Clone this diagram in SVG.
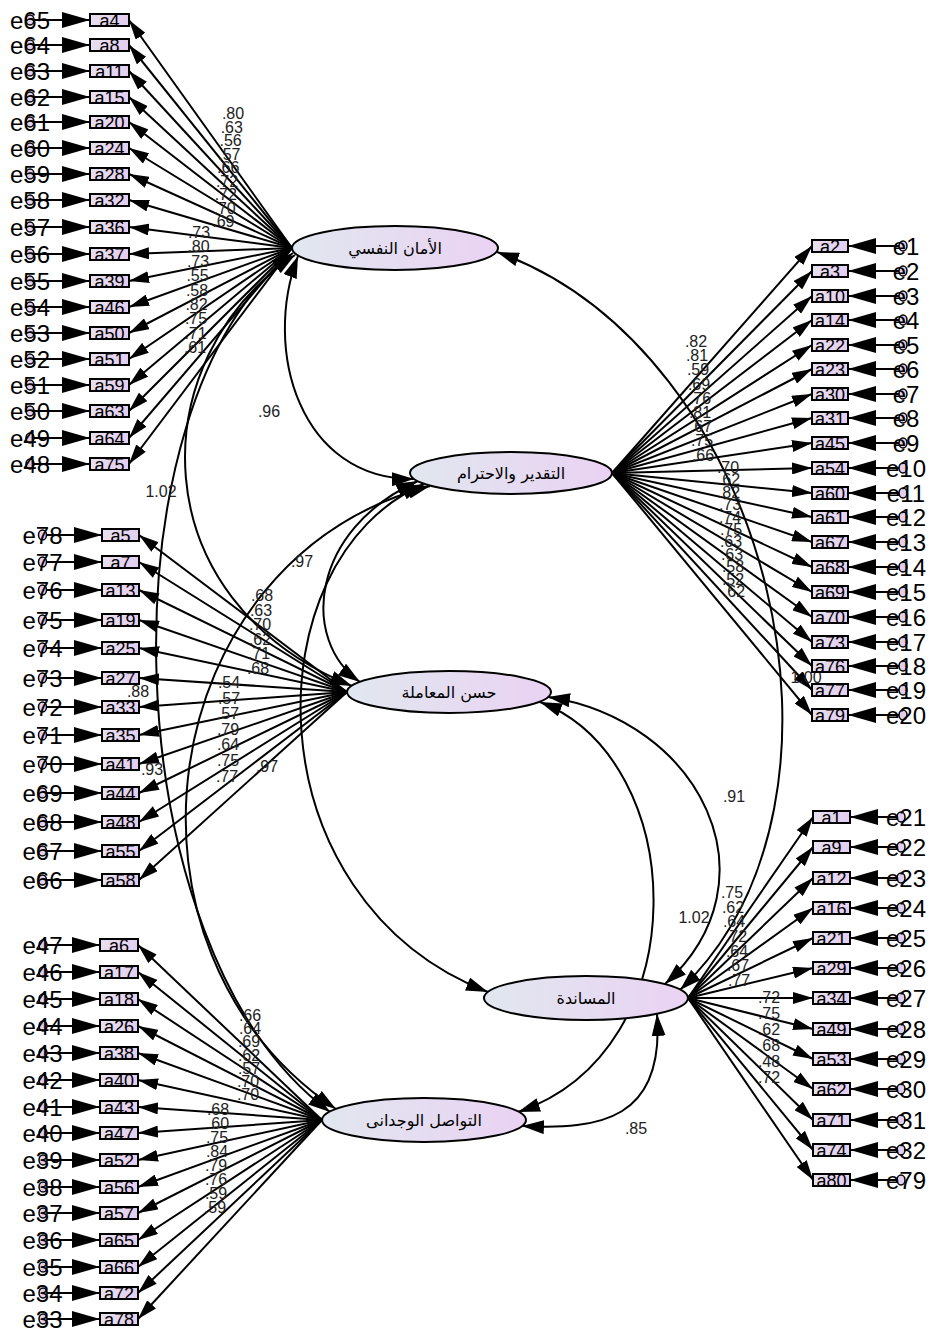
<svg xmlns="http://www.w3.org/2000/svg" width="933" height="1332" viewBox="0 0 933 1332">
<defs>
<linearGradient id="gl" x1="0" y1="0" x2="1" y2="0"><stop offset="0" stop-color="#e1e7ef"/><stop offset="1" stop-color="#ead2f3"/></linearGradient>
<linearGradient id="gi" x1="0" y1="0" x2="1" y2="0"><stop offset="0" stop-color="#e6e0ef"/><stop offset="1" stop-color="#e4cdef"/></linearGradient>
<marker id="ah" viewBox="0 0 20 12" refX="20" refY="6" markerWidth="20" markerHeight="12" markerUnits="userSpaceOnUse" orient="auto"><path d="M0,0L20,6L0,12z"/></marker>
<marker id="ae" viewBox="0 0 28 16" refX="28" refY="8" markerWidth="28" markerHeight="16" markerUnits="userSpaceOnUse" orient="auto"><path d="M0,0L28,8L0,16z"/></marker>
<marker id="ac" viewBox="0 0 22 14" refX="22" refY="7" markerWidth="22" markerHeight="14" markerUnits="userSpaceOnUse" orient="auto-start-reverse"><path d="M0,0L22,7L0,14z"/></marker>
</defs>
<style>
.ld line{stroke:#000;stroke-width:2;marker-end:url(#ah)}
.el line{stroke:#000;stroke-width:2;marker-end:url(#ae)}
.cv path{fill:none;stroke:#000;stroke-width:2;marker-start:url(#ac);marker-end:url(#ac)}
.it rect{fill:url(#gi);stroke:#000;stroke-width:2}
.it text{font-family:"Liberation Sans",Arial,sans-serif;font-size:18px;text-anchor:middle}
.er ellipse{fill:#e2cfee;stroke:#000;stroke-width:1.5}
.er text{font-family:"Liberation Sans",Arial,sans-serif;font-size:24px;text-anchor:middle}
.lv ellipse{fill:url(#gl);stroke:#000;stroke-width:2}
.lv text{font-family:"DejaVu Sans",sans-serif;font-size:16px;text-anchor:middle}
.lb text{font-family:"Liberation Sans",Arial,sans-serif;font-size:16px;fill:#222;text-anchor:middle}
</style>
<rect width="933" height="1332" fill="#fff"/>
<g id="connectors">
<g class="ld">
<line x1="292" y1="248" x2="129" y2="20"/><line x1="292" y1="248" x2="129" y2="45"/><line x1="292" y1="248" x2="129" y2="71"/><line x1="292" y1="248" x2="129" y2="97"/><line x1="292" y1="248" x2="129" y2="122"/><line x1="292" y1="248" x2="129" y2="148"/><line x1="292" y1="248" x2="129" y2="174"/><line x1="292" y1="248" x2="129" y2="200"/><line x1="292" y1="248" x2="129" y2="227"/><line x1="292" y1="248" x2="129" y2="254"/><line x1="292" y1="248" x2="129" y2="281"/><line x1="292" y1="248" x2="129" y2="307"/><line x1="292" y1="248" x2="129" y2="333"/><line x1="292" y1="248" x2="129" y2="359"/><line x1="292" y1="248" x2="129" y2="385"/><line x1="292" y1="248" x2="129" y2="411"/><line x1="292" y1="248" x2="129" y2="438"/><line x1="292" y1="248" x2="129" y2="464"/>
<line x1="612" y1="473" x2="812" y2="246"/><line x1="612" y1="473" x2="812" y2="271"/><line x1="612" y1="473" x2="812" y2="296"/><line x1="612" y1="473" x2="812" y2="320"/><line x1="612" y1="473" x2="812" y2="345"/><line x1="612" y1="473" x2="812" y2="369"/><line x1="612" y1="473" x2="812" y2="394"/><line x1="612" y1="473" x2="812" y2="418"/><line x1="612" y1="473" x2="812" y2="443"/><line x1="612" y1="473" x2="812" y2="468"/><line x1="612" y1="473" x2="812" y2="493"/><line x1="612" y1="473" x2="812" y2="517"/><line x1="612" y1="473" x2="812" y2="542"/><line x1="612" y1="473" x2="812" y2="567"/><line x1="612" y1="473" x2="812" y2="592"/><line x1="612" y1="473" x2="812" y2="617"/><line x1="612" y1="473" x2="812" y2="642"/><line x1="612" y1="473" x2="812" y2="666"/><line x1="612" y1="473" x2="812" y2="690"/><line x1="612" y1="473" x2="812" y2="715"/>
<line x1="347" y1="692" x2="139" y2="535"/><line x1="347" y1="692" x2="139" y2="562"/><line x1="347" y1="692" x2="139" y2="590"/><line x1="347" y1="692" x2="139" y2="620"/><line x1="347" y1="692" x2="139" y2="648"/><line x1="347" y1="692" x2="139" y2="678"/><line x1="347" y1="692" x2="139" y2="707"/><line x1="347" y1="692" x2="139" y2="735"/><line x1="347" y1="692" x2="139" y2="764"/><line x1="347" y1="692" x2="139" y2="793"/><line x1="347" y1="692" x2="139" y2="822"/><line x1="347" y1="692" x2="139" y2="851"/><line x1="347" y1="692" x2="139" y2="880"/>
<line x1="322" y1="1120" x2="138" y2="945"/><line x1="322" y1="1120" x2="138" y2="972"/><line x1="322" y1="1120" x2="138" y2="999"/><line x1="322" y1="1120" x2="138" y2="1026"/><line x1="322" y1="1120" x2="138" y2="1053"/><line x1="322" y1="1120" x2="138" y2="1080"/><line x1="322" y1="1120" x2="138" y2="1107"/><line x1="322" y1="1120" x2="138" y2="1133"/><line x1="322" y1="1120" x2="138" y2="1160"/><line x1="322" y1="1120" x2="138" y2="1187"/><line x1="322" y1="1120" x2="138" y2="1213"/><line x1="322" y1="1120" x2="138" y2="1240"/><line x1="322" y1="1120" x2="138" y2="1267"/><line x1="322" y1="1120" x2="138" y2="1293"/><line x1="322" y1="1120" x2="138" y2="1319"/>
<line x1="688" y1="998" x2="813" y2="817"/><line x1="688" y1="998" x2="813" y2="847"/><line x1="688" y1="998" x2="813" y2="878"/><line x1="688" y1="998" x2="813" y2="908"/><line x1="688" y1="998" x2="813" y2="938"/><line x1="688" y1="998" x2="813" y2="968"/><line x1="688" y1="998" x2="813" y2="998"/><line x1="688" y1="998" x2="813" y2="1029"/><line x1="688" y1="998" x2="813" y2="1059"/><line x1="688" y1="998" x2="813" y2="1089"/><line x1="688" y1="998" x2="813" y2="1120"/><line x1="688" y1="998" x2="813" y2="1150"/><line x1="688" y1="998" x2="813" y2="1180"/>
</g>
<g class="el">
<line x1="34" y1="20" x2="90" y2="20"/><line x1="34" y1="45" x2="90" y2="45"/><line x1="34" y1="71" x2="90" y2="71"/><line x1="34" y1="97" x2="90" y2="97"/><line x1="34" y1="122" x2="90" y2="122"/><line x1="34" y1="148" x2="90" y2="148"/><line x1="34" y1="174" x2="90" y2="174"/><line x1="34" y1="200" x2="90" y2="200"/><line x1="34" y1="227" x2="90" y2="227"/><line x1="34" y1="254" x2="90" y2="254"/><line x1="34" y1="281" x2="90" y2="281"/><line x1="34" y1="307" x2="90" y2="307"/><line x1="34" y1="333" x2="90" y2="333"/><line x1="34" y1="359" x2="90" y2="359"/><line x1="34" y1="385" x2="90" y2="385"/><line x1="34" y1="411" x2="90" y2="411"/><line x1="34" y1="438" x2="90" y2="438"/><line x1="34" y1="464" x2="90" y2="464"/>
<line x1="899" y1="246" x2="848" y2="246"/><line x1="899" y1="271" x2="848" y2="271"/><line x1="899" y1="296" x2="848" y2="296"/><line x1="899" y1="320" x2="848" y2="320"/><line x1="899" y1="345" x2="848" y2="345"/><line x1="899" y1="369" x2="848" y2="369"/><line x1="899" y1="394" x2="848" y2="394"/><line x1="899" y1="418" x2="848" y2="418"/><line x1="899" y1="443" x2="848" y2="443"/><line x1="899" y1="468" x2="848" y2="468"/><line x1="899" y1="493" x2="848" y2="493"/><line x1="899" y1="517" x2="848" y2="517"/><line x1="899" y1="542" x2="848" y2="542"/><line x1="899" y1="567" x2="848" y2="567"/><line x1="899" y1="592" x2="848" y2="592"/><line x1="899" y1="617" x2="848" y2="617"/><line x1="899" y1="642" x2="848" y2="642"/><line x1="899" y1="666" x2="848" y2="666"/><line x1="899" y1="690" x2="848" y2="690"/><line x1="899" y1="715" x2="848" y2="715"/>
<line x1="47" y1="535" x2="102" y2="535"/><line x1="47" y1="562" x2="102" y2="562"/><line x1="47" y1="590" x2="102" y2="590"/><line x1="47" y1="620" x2="102" y2="620"/><line x1="47" y1="648" x2="102" y2="648"/><line x1="47" y1="678" x2="102" y2="678"/><line x1="47" y1="707" x2="102" y2="707"/><line x1="47" y1="735" x2="102" y2="735"/><line x1="47" y1="764" x2="102" y2="764"/><line x1="47" y1="793" x2="102" y2="793"/><line x1="47" y1="822" x2="102" y2="822"/><line x1="47" y1="851" x2="102" y2="851"/><line x1="47" y1="880" x2="102" y2="880"/>
<line x1="47" y1="945" x2="100" y2="945"/><line x1="47" y1="972" x2="100" y2="972"/><line x1="47" y1="999" x2="100" y2="999"/><line x1="47" y1="1026" x2="100" y2="1026"/><line x1="47" y1="1053" x2="100" y2="1053"/><line x1="47" y1="1080" x2="100" y2="1080"/><line x1="47" y1="1107" x2="100" y2="1107"/><line x1="47" y1="1133" x2="100" y2="1133"/><line x1="47" y1="1160" x2="100" y2="1160"/><line x1="47" y1="1187" x2="100" y2="1187"/><line x1="47" y1="1213" x2="100" y2="1213"/><line x1="47" y1="1240" x2="100" y2="1240"/><line x1="47" y1="1267" x2="100" y2="1267"/><line x1="47" y1="1293" x2="100" y2="1293"/><line x1="47" y1="1319" x2="100" y2="1319"/>
<line x1="897" y1="817" x2="850" y2="817"/><line x1="897" y1="847" x2="850" y2="847"/><line x1="897" y1="878" x2="850" y2="878"/><line x1="897" y1="908" x2="850" y2="908"/><line x1="897" y1="938" x2="850" y2="938"/><line x1="897" y1="968" x2="850" y2="968"/><line x1="897" y1="998" x2="850" y2="998"/><line x1="897" y1="1029" x2="850" y2="1029"/><line x1="897" y1="1059" x2="850" y2="1059"/><line x1="897" y1="1089" x2="850" y2="1089"/><line x1="897" y1="1120" x2="850" y2="1120"/><line x1="897" y1="1150" x2="850" y2="1150"/><line x1="897" y1="1180" x2="850" y2="1180"/>
</g>
<g class="cv">
<path d="M298 256C262 350 300 480 414 479"/>
<path d="M295 255C140 360 140 600 352 686"/>
<path d="M293 253C100 400 110 950 330 1112"/>
<path d="M418 481C310 530 300 640 360 682"/>
<path d="M424 484C250 560 250 900 488 992"/>
<path d="M430 486C150 560 100 950 336 1109"/>
<path d="M497 252C770 350 880 800 680 990"/>
<path d="M548 697C700 720 780 880 665 984"/>
<path d="M540 702C690 760 700 1050 518 1112"/>
<path d="M657 1014C665 1120 600 1130 522 1126"/>
</g>
</g>
<g id="labels" class="lb">
<text x="233" y="119">.80</text><text x="231.8" y="132.5">.63</text><text x="230.6" y="146">.56</text><text x="229.4" y="159.5">.57</text><text x="228.2" y="173">.66</text><text x="227" y="186.5">.72</text><text x="225.8" y="200">.72</text><text x="224.6" y="213.5">.70</text><text x="223.4" y="227">.69</text>
<text x="199" y="238">.73</text><text x="198.5" y="252.4">.80</text><text x="198" y="266.8">.73</text><text x="197.5" y="281.2">.55</text><text x="197" y="295.6">.58</text><text x="196.5" y="310">.82</text><text x="196" y="324.4">.75</text><text x="195.5" y="338.8">.71</text><text x="195" y="353.2">.61</text>
<text x="696" y="347">.82</text><text x="697" y="361">.81</text><text x="698" y="375">.59</text><text x="699" y="390">.69</text><text x="700" y="404">.76</text><text x="700" y="418">.81</text><text x="701" y="432">.67</text><text x="702" y="446">.75</text><text x="703" y="461">.66</text>
<text x="728" y="473">.70</text><text x="729" y="485.4">.62</text><text x="729" y="497.8">.82</text><text x="730" y="510.2">.73</text><text x="730" y="522.6">.74</text><text x="731" y="535">.75</text><text x="731" y="547.4">.63</text><text x="732" y="559.8">.63</text><text x="733" y="572.2">.58</text><text x="733" y="584.6">.52</text><text x="734" y="597">.62</text>
<text x="262" y="601">.68</text><text x="261" y="616">.63</text><text x="260" y="630">.70</text><text x="260" y="645">.62</text><text x="259" y="659">.71</text><text x="258" y="674">.68</text>
<text x="229" y="688">.54</text><text x="229" y="704">.57</text><text x="228" y="719">.57</text><text x="228" y="735">.79</text><text x="228" y="750">.64</text><text x="228" y="766">.75</text><text x="227" y="782">.77</text>
<text x="250" y="1021">.66</text><text x="250" y="1034">.64</text><text x="249" y="1047">.69</text><text x="249" y="1061">.62</text><text x="249" y="1074">.57</text><text x="248" y="1087">.70</text><text x="248" y="1100">.70</text>
<text x="218" y="1115">.68</text><text x="218" y="1129">.60</text><text x="217" y="1143">.75</text><text x="217" y="1157">.84</text><text x="216" y="1171">.79</text><text x="216" y="1185">.76</text><text x="216" y="1199">.59</text><text x="215" y="1213">.59</text>
<text x="732" y="898">.75</text><text x="733" y="913">.62</text><text x="734" y="927">.64</text><text x="736" y="942">.72</text><text x="737" y="957">.64</text><text x="738" y="971">.67</text><text x="739" y="986">.77</text>
<text x="769" y="1003">.72</text><text x="769" y="1019">.75</text><text x="769" y="1035">.62</text><text x="769" y="1051">.68</text><text x="769" y="1067">.48</text><text x="769" y="1083">.72</text>
<text x="269" y="417">.96</text><text x="161" y="497">1.02</text><text x="302" y="567">.97</text><text x="138" y="697">.88</text><text x="152" y="775">.93</text><text x="267" y="772">.97</text><text x="806" y="683">1.00</text><text x="734" y="802">.91</text><text x="694" y="923">1.02</text><text x="636" y="1134">.85</text>
</g>
<g id="F1" class="lv"><ellipse cx="395" cy="248" rx="103" ry="22"/><text x="395" y="254">الأمان النفسي</text></g>
<g id="F2" class="lv"><ellipse cx="511" cy="473" rx="101" ry="21"/><text x="511" y="479">التقدير والاحترام</text></g>
<g id="F3" class="lv"><ellipse cx="449" cy="692" rx="102" ry="21"/><text x="449" y="698">حسن المعاملة</text></g>
<g id="F4" class="lv"><ellipse cx="586" cy="998" rx="102" ry="22"/><text x="586" y="1004">المساندة</text></g>
<g id="F5" class="lv"><ellipse cx="424" cy="1120" rx="102" ry="22"/><text x="424" y="1126">التواصل الوجدانى</text></g>
<g id="items">
<g id="a4" class="it"><rect x="90" y="14" width="39" height="12"/><text x="109.5" y="26.5">a4</text></g>
<g id="a8" class="it"><rect x="90" y="39" width="39" height="12"/><text x="109.5" y="51.5">a8</text></g>
<g id="a11" class="it"><rect x="90" y="65" width="39" height="12"/><text x="109.5" y="77.5">a11</text></g>
<g id="a15" class="it"><rect x="90" y="91" width="39" height="12"/><text x="109.5" y="103.5">a15</text></g>
<g id="a20" class="it"><rect x="90" y="116" width="39" height="12"/><text x="109.5" y="128.5">a20</text></g>
<g id="a24" class="it"><rect x="90" y="142" width="39" height="12"/><text x="109.5" y="154.5">a24</text></g>
<g id="a28" class="it"><rect x="90" y="168" width="39" height="12"/><text x="109.5" y="180.5">a28</text></g>
<g id="a32" class="it"><rect x="90" y="194" width="39" height="12"/><text x="109.5" y="206.5">a32</text></g>
<g id="a36" class="it"><rect x="90" y="221" width="39" height="12"/><text x="109.5" y="233.5">a36</text></g>
<g id="a37" class="it"><rect x="90" y="248" width="39" height="12"/><text x="109.5" y="260.5">a37</text></g>
<g id="a39" class="it"><rect x="90" y="275" width="39" height="12"/><text x="109.5" y="287.5">a39</text></g>
<g id="a46" class="it"><rect x="90" y="301" width="39" height="12"/><text x="109.5" y="313.5">a46</text></g>
<g id="a50" class="it"><rect x="90" y="327" width="39" height="12"/><text x="109.5" y="339.5">a50</text></g>
<g id="a51" class="it"><rect x="90" y="353" width="39" height="12"/><text x="109.5" y="365.5">a51</text></g>
<g id="a59" class="it"><rect x="90" y="379" width="39" height="12"/><text x="109.5" y="391.5">a59</text></g>
<g id="a63" class="it"><rect x="90" y="405" width="39" height="12"/><text x="109.5" y="417.5">a63</text></g>
<g id="a64" class="it"><rect x="90" y="432" width="39" height="12"/><text x="109.5" y="444.5">a64</text></g>
<g id="a75" class="it"><rect x="90" y="458" width="39" height="12"/><text x="109.5" y="470.5">a75</text></g>
<g id="a2" class="it"><rect x="812" y="240" width="36" height="12"/><text x="830" y="252.5">a2</text></g>
<g id="a3" class="it"><rect x="812" y="265" width="36" height="12"/><text x="830" y="277.5">a3</text></g>
<g id="a10" class="it"><rect x="812" y="290" width="36" height="12"/><text x="830" y="302.5">a10</text></g>
<g id="a14" class="it"><rect x="812" y="314" width="36" height="12"/><text x="830" y="326.5">a14</text></g>
<g id="a22" class="it"><rect x="812" y="339" width="36" height="12"/><text x="830" y="351.5">a22</text></g>
<g id="a23" class="it"><rect x="812" y="363" width="36" height="12"/><text x="830" y="375.5">a23</text></g>
<g id="a30" class="it"><rect x="812" y="388" width="36" height="12"/><text x="830" y="400.5">a30</text></g>
<g id="a31" class="it"><rect x="812" y="412" width="36" height="12"/><text x="830" y="424.5">a31</text></g>
<g id="a45" class="it"><rect x="812" y="437" width="36" height="12"/><text x="830" y="449.5">a45</text></g>
<g id="a54" class="it"><rect x="812" y="462" width="36" height="12"/><text x="830" y="474.5">a54</text></g>
<g id="a60" class="it"><rect x="812" y="487" width="36" height="12"/><text x="830" y="499.5">a60</text></g>
<g id="a61" class="it"><rect x="812" y="511" width="36" height="12"/><text x="830" y="523.5">a61</text></g>
<g id="a67" class="it"><rect x="812" y="536" width="36" height="12"/><text x="830" y="548.5">a67</text></g>
<g id="a68" class="it"><rect x="812" y="561" width="36" height="12"/><text x="830" y="573.5">a68</text></g>
<g id="a69" class="it"><rect x="812" y="586" width="36" height="12"/><text x="830" y="598.5">a69</text></g>
<g id="a70" class="it"><rect x="812" y="611" width="36" height="12"/><text x="830" y="623.5">a70</text></g>
<g id="a73" class="it"><rect x="812" y="636" width="36" height="12"/><text x="830" y="648.5">a73</text></g>
<g id="a76" class="it"><rect x="812" y="660" width="36" height="12"/><text x="830" y="672.5">a76</text></g>
<g id="a77" class="it"><rect x="812" y="684" width="36" height="12"/><text x="830" y="696.5">a77</text></g>
<g id="a79" class="it"><rect x="812" y="709" width="36" height="12"/><text x="830" y="721.5">a79</text></g>
<g id="a5" class="it"><rect x="102" y="529" width="37" height="12"/><text x="120.5" y="541.5">a5</text></g>
<g id="a7" class="it"><rect x="102" y="556" width="37" height="12"/><text x="120.5" y="568.5">a7</text></g>
<g id="a13" class="it"><rect x="102" y="584" width="37" height="12"/><text x="120.5" y="596.5">a13</text></g>
<g id="a19" class="it"><rect x="102" y="614" width="37" height="12"/><text x="120.5" y="626.5">a19</text></g>
<g id="a25" class="it"><rect x="102" y="642" width="37" height="12"/><text x="120.5" y="654.5">a25</text></g>
<g id="a27" class="it"><rect x="102" y="672" width="37" height="12"/><text x="120.5" y="684.5">a27</text></g>
<g id="a33" class="it"><rect x="102" y="701" width="37" height="12"/><text x="120.5" y="713.5">a33</text></g>
<g id="a35" class="it"><rect x="102" y="729" width="37" height="12"/><text x="120.5" y="741.5">a35</text></g>
<g id="a41" class="it"><rect x="102" y="758" width="37" height="12"/><text x="120.5" y="770.5">a41</text></g>
<g id="a44" class="it"><rect x="102" y="787" width="37" height="12"/><text x="120.5" y="799.5">a44</text></g>
<g id="a48" class="it"><rect x="102" y="816" width="37" height="12"/><text x="120.5" y="828.5">a48</text></g>
<g id="a55" class="it"><rect x="102" y="845" width="37" height="12"/><text x="120.5" y="857.5">a55</text></g>
<g id="a58" class="it"><rect x="102" y="874" width="37" height="12"/><text x="120.5" y="886.5">a58</text></g>
<g id="a6" class="it"><rect x="100" y="939" width="38" height="12"/><text x="119" y="951.5">a6</text></g>
<g id="a17" class="it"><rect x="100" y="966" width="38" height="12"/><text x="119" y="978.5">a17</text></g>
<g id="a18" class="it"><rect x="100" y="993" width="38" height="12"/><text x="119" y="1005.5">a18</text></g>
<g id="a26" class="it"><rect x="100" y="1020" width="38" height="12"/><text x="119" y="1032.5">a26</text></g>
<g id="a38" class="it"><rect x="100" y="1047" width="38" height="12"/><text x="119" y="1059.5">a38</text></g>
<g id="a40" class="it"><rect x="100" y="1074" width="38" height="12"/><text x="119" y="1086.5">a40</text></g>
<g id="a43" class="it"><rect x="100" y="1101" width="38" height="12"/><text x="119" y="1113.5">a43</text></g>
<g id="a47" class="it"><rect x="100" y="1127" width="38" height="12"/><text x="119" y="1139.5">a47</text></g>
<g id="a52" class="it"><rect x="100" y="1154" width="38" height="12"/><text x="119" y="1166.5">a52</text></g>
<g id="a56" class="it"><rect x="100" y="1181" width="38" height="12"/><text x="119" y="1193.5">a56</text></g>
<g id="a57" class="it"><rect x="100" y="1207" width="38" height="12"/><text x="119" y="1219.5">a57</text></g>
<g id="a65" class="it"><rect x="100" y="1234" width="38" height="12"/><text x="119" y="1246.5">a65</text></g>
<g id="a66" class="it"><rect x="100" y="1261" width="38" height="12"/><text x="119" y="1273.5">a66</text></g>
<g id="a72" class="it"><rect x="100" y="1287" width="38" height="12"/><text x="119" y="1299.5">a72</text></g>
<g id="a78" class="it"><rect x="100" y="1313" width="38" height="12"/><text x="119" y="1325.5">a78</text></g>
<g id="a1" class="it"><rect x="813" y="811" width="37" height="12"/><text x="831.5" y="823.5">a1</text></g>
<g id="a9" class="it"><rect x="813" y="841" width="37" height="12"/><text x="831.5" y="853.5">a9</text></g>
<g id="a12" class="it"><rect x="813" y="872" width="37" height="12"/><text x="831.5" y="884.5">a12</text></g>
<g id="a16" class="it"><rect x="813" y="902" width="37" height="12"/><text x="831.5" y="914.5">a16</text></g>
<g id="a21" class="it"><rect x="813" y="932" width="37" height="12"/><text x="831.5" y="944.5">a21</text></g>
<g id="a29" class="it"><rect x="813" y="962" width="37" height="12"/><text x="831.5" y="974.5">a29</text></g>
<g id="a34" class="it"><rect x="813" y="992" width="37" height="12"/><text x="831.5" y="1004.5">a34</text></g>
<g id="a49" class="it"><rect x="813" y="1023" width="37" height="12"/><text x="831.5" y="1035.5">a49</text></g>
<g id="a53" class="it"><rect x="813" y="1053" width="37" height="12"/><text x="831.5" y="1065.5">a53</text></g>
<g id="a62" class="it"><rect x="813" y="1083" width="37" height="12"/><text x="831.5" y="1095.5">a62</text></g>
<g id="a71" class="it"><rect x="813" y="1114" width="37" height="12"/><text x="831.5" y="1126.5">a71</text></g>
<g id="a74" class="it"><rect x="813" y="1144" width="37" height="12"/><text x="831.5" y="1156.5">a74</text></g>
<g id="a80" class="it"><rect x="813" y="1174" width="37" height="12"/><text x="831.5" y="1186.5">a80</text></g>
</g>
<g id="errors">
<g id="e65" class="er"><ellipse cx="30" cy="20" rx="4" ry="5"/><text x="30" y="28.5">e65</text></g>
<g id="e64" class="er"><ellipse cx="30" cy="45" rx="4" ry="5"/><text x="30" y="53.5">e64</text></g>
<g id="e63" class="er"><ellipse cx="30" cy="71" rx="4" ry="5"/><text x="30" y="79.5">e63</text></g>
<g id="e62" class="er"><ellipse cx="30" cy="97" rx="4" ry="5"/><text x="30" y="105.5">e62</text></g>
<g id="e61" class="er"><ellipse cx="30" cy="122" rx="4" ry="5"/><text x="30" y="130.5">e61</text></g>
<g id="e60" class="er"><ellipse cx="30" cy="148" rx="4" ry="5"/><text x="30" y="156.5">e60</text></g>
<g id="e59" class="er"><ellipse cx="30" cy="174" rx="4" ry="5"/><text x="30" y="182.5">e59</text></g>
<g id="e58" class="er"><ellipse cx="30" cy="200" rx="4" ry="5"/><text x="30" y="208.5">e58</text></g>
<g id="e57" class="er"><ellipse cx="30" cy="227" rx="4" ry="5"/><text x="30" y="235.5">e57</text></g>
<g id="e56" class="er"><ellipse cx="30" cy="254" rx="4" ry="5"/><text x="30" y="262.5">e56</text></g>
<g id="e55" class="er"><ellipse cx="30" cy="281" rx="4" ry="5"/><text x="30" y="289.5">e55</text></g>
<g id="e54" class="er"><ellipse cx="30" cy="307" rx="4" ry="5"/><text x="30" y="315.5">e54</text></g>
<g id="e53" class="er"><ellipse cx="30" cy="333" rx="4" ry="5"/><text x="30" y="341.5">e53</text></g>
<g id="e52" class="er"><ellipse cx="30" cy="359" rx="4" ry="5"/><text x="30" y="367.5">e52</text></g>
<g id="e51" class="er"><ellipse cx="30" cy="385" rx="4" ry="5"/><text x="30" y="393.5">e51</text></g>
<g id="e50" class="er"><ellipse cx="30" cy="411" rx="4" ry="5"/><text x="30" y="419.5">e50</text></g>
<g id="e49" class="er"><ellipse cx="30" cy="438" rx="4" ry="5"/><text x="30" y="446.5">e49</text></g>
<g id="e48" class="er"><ellipse cx="30" cy="464" rx="4" ry="5"/><text x="30" y="472.5">e48</text></g>
<g id="e1" class="er"><ellipse cx="903" cy="246" rx="4" ry="5"/><text x="906" y="254.5">e1</text></g>
<g id="e2" class="er"><ellipse cx="903" cy="271" rx="4" ry="5"/><text x="906" y="279.5">e2</text></g>
<g id="e3" class="er"><ellipse cx="903" cy="296" rx="4" ry="5"/><text x="906" y="304.5">e3</text></g>
<g id="e4" class="er"><ellipse cx="903" cy="320" rx="4" ry="5"/><text x="906" y="328.5">e4</text></g>
<g id="e5" class="er"><ellipse cx="903" cy="345" rx="4" ry="5"/><text x="906" y="353.5">e5</text></g>
<g id="e6" class="er"><ellipse cx="903" cy="369" rx="4" ry="5"/><text x="906" y="377.5">e6</text></g>
<g id="e7" class="er"><ellipse cx="903" cy="394" rx="4" ry="5"/><text x="906" y="402.5">e7</text></g>
<g id="e8" class="er"><ellipse cx="903" cy="418" rx="4" ry="5"/><text x="906" y="426.5">e8</text></g>
<g id="e9" class="er"><ellipse cx="903" cy="443" rx="4" ry="5"/><text x="906" y="451.5">e9</text></g>
<g id="e10" class="er"><ellipse cx="903" cy="468" rx="4" ry="5"/><text x="906" y="476.5">e10</text></g>
<g id="e11" class="er"><ellipse cx="903" cy="493" rx="4" ry="5"/><text x="906" y="501.5">e11</text></g>
<g id="e12" class="er"><ellipse cx="903" cy="517" rx="4" ry="5"/><text x="906" y="525.5">e12</text></g>
<g id="e13" class="er"><ellipse cx="903" cy="542" rx="4" ry="5"/><text x="906" y="550.5">e13</text></g>
<g id="e14" class="er"><ellipse cx="903" cy="567" rx="4" ry="5"/><text x="906" y="575.5">e14</text></g>
<g id="e15" class="er"><ellipse cx="903" cy="592" rx="4" ry="5"/><text x="906" y="600.5">e15</text></g>
<g id="e16" class="er"><ellipse cx="903" cy="617" rx="4" ry="5"/><text x="906" y="625.5">e16</text></g>
<g id="e17" class="er"><ellipse cx="903" cy="642" rx="4" ry="5"/><text x="906" y="650.5">e17</text></g>
<g id="e18" class="er"><ellipse cx="903" cy="666" rx="4" ry="5"/><text x="906" y="674.5">e18</text></g>
<g id="e19" class="er"><ellipse cx="903" cy="690" rx="4" ry="5"/><text x="906" y="698.5">e19</text></g>
<g id="e20" class="er"><ellipse cx="903" cy="715" rx="4" ry="5"/><text x="906" y="723.5">e20</text></g>
<g id="e78" class="er"><ellipse cx="42.5" cy="535" rx="4" ry="5"/><text x="42.5" y="543.5">e78</text></g>
<g id="e77" class="er"><ellipse cx="42.5" cy="562" rx="4" ry="5"/><text x="42.5" y="570.5">e77</text></g>
<g id="e76" class="er"><ellipse cx="42.5" cy="590" rx="4" ry="5"/><text x="42.5" y="598.5">e76</text></g>
<g id="e75" class="er"><ellipse cx="42.5" cy="620" rx="4" ry="5"/><text x="42.5" y="628.5">e75</text></g>
<g id="e74" class="er"><ellipse cx="42.5" cy="648" rx="4" ry="5"/><text x="42.5" y="656.5">e74</text></g>
<g id="e73" class="er"><ellipse cx="42.5" cy="678" rx="4" ry="5"/><text x="42.5" y="686.5">e73</text></g>
<g id="e72" class="er"><ellipse cx="42.5" cy="707" rx="4" ry="5"/><text x="42.5" y="715.5">e72</text></g>
<g id="e71" class="er"><ellipse cx="42.5" cy="735" rx="4" ry="5"/><text x="42.5" y="743.5">e71</text></g>
<g id="e70" class="er"><ellipse cx="42.5" cy="764" rx="4" ry="5"/><text x="42.5" y="772.5">e70</text></g>
<g id="e69" class="er"><ellipse cx="42.5" cy="793" rx="4" ry="5"/><text x="42.5" y="801.5">e69</text></g>
<g id="e68" class="er"><ellipse cx="42.5" cy="822" rx="4" ry="5"/><text x="42.5" y="830.5">e68</text></g>
<g id="e67" class="er"><ellipse cx="42.5" cy="851" rx="4" ry="5"/><text x="42.5" y="859.5">e67</text></g>
<g id="e66" class="er"><ellipse cx="42.5" cy="880" rx="4" ry="5"/><text x="42.5" y="888.5">e66</text></g>
<g id="e47" class="er"><ellipse cx="43" cy="945" rx="4" ry="5"/><text x="42.5" y="953.5">e47</text></g>
<g id="e46" class="er"><ellipse cx="43" cy="972" rx="4" ry="5"/><text x="42.5" y="980.5">e46</text></g>
<g id="e45" class="er"><ellipse cx="43" cy="999" rx="4" ry="5"/><text x="42.5" y="1007.5">e45</text></g>
<g id="e44" class="er"><ellipse cx="43" cy="1026" rx="4" ry="5"/><text x="42.5" y="1034.5">e44</text></g>
<g id="e43" class="er"><ellipse cx="43" cy="1053" rx="4" ry="5"/><text x="42.5" y="1061.5">e43</text></g>
<g id="e42" class="er"><ellipse cx="43" cy="1080" rx="4" ry="5"/><text x="42.5" y="1088.5">e42</text></g>
<g id="e41" class="er"><ellipse cx="43" cy="1107" rx="4" ry="5"/><text x="42.5" y="1115.5">e41</text></g>
<g id="e40" class="er"><ellipse cx="43" cy="1133" rx="4" ry="5"/><text x="42.5" y="1141.5">e40</text></g>
<g id="e39" class="er"><ellipse cx="43" cy="1160" rx="4" ry="5"/><text x="42.5" y="1168.5">e39</text></g>
<g id="e38" class="er"><ellipse cx="43" cy="1187" rx="4" ry="5"/><text x="42.5" y="1195.5">e38</text></g>
<g id="e37" class="er"><ellipse cx="43" cy="1213" rx="4" ry="5"/><text x="42.5" y="1221.5">e37</text></g>
<g id="e36" class="er"><ellipse cx="43" cy="1240" rx="4" ry="5"/><text x="42.5" y="1248.5">e36</text></g>
<g id="e35" class="er"><ellipse cx="43" cy="1267" rx="4" ry="5"/><text x="42.5" y="1275.5">e35</text></g>
<g id="e34" class="er"><ellipse cx="43" cy="1293" rx="4" ry="5"/><text x="42.5" y="1301.5">e34</text></g>
<g id="e33" class="er"><ellipse cx="43" cy="1319" rx="4" ry="5"/><text x="42.5" y="1327.5">e33</text></g>
<g id="e21" class="er"><ellipse cx="901" cy="817" rx="4" ry="5"/><text x="906" y="825.5">e21</text></g>
<g id="e22" class="er"><ellipse cx="901" cy="847" rx="4" ry="5"/><text x="906" y="855.5">e22</text></g>
<g id="e23" class="er"><ellipse cx="901" cy="878" rx="4" ry="5"/><text x="906" y="886.5">e23</text></g>
<g id="e24" class="er"><ellipse cx="901" cy="908" rx="4" ry="5"/><text x="906" y="916.5">e24</text></g>
<g id="e25" class="er"><ellipse cx="901" cy="938" rx="4" ry="5"/><text x="906" y="946.5">e25</text></g>
<g id="e26" class="er"><ellipse cx="901" cy="968" rx="4" ry="5"/><text x="906" y="976.5">e26</text></g>
<g id="e27" class="er"><ellipse cx="901" cy="998" rx="4" ry="5"/><text x="906" y="1006.5">e27</text></g>
<g id="e28" class="er"><ellipse cx="901" cy="1029" rx="4" ry="5"/><text x="906" y="1037.5">e28</text></g>
<g id="e29" class="er"><ellipse cx="901" cy="1059" rx="4" ry="5"/><text x="906" y="1067.5">e29</text></g>
<g id="e30" class="er"><ellipse cx="901" cy="1089" rx="4" ry="5"/><text x="906" y="1097.5">e30</text></g>
<g id="e31" class="er"><ellipse cx="901" cy="1120" rx="4" ry="5"/><text x="906" y="1128.5">e31</text></g>
<g id="e32" class="er"><ellipse cx="901" cy="1150" rx="4" ry="5"/><text x="906" y="1158.5">e32</text></g>
<g id="e79" class="er"><ellipse cx="901" cy="1180" rx="4" ry="5"/><text x="906" y="1188.5">e79</text></g>
</g>
</svg>
